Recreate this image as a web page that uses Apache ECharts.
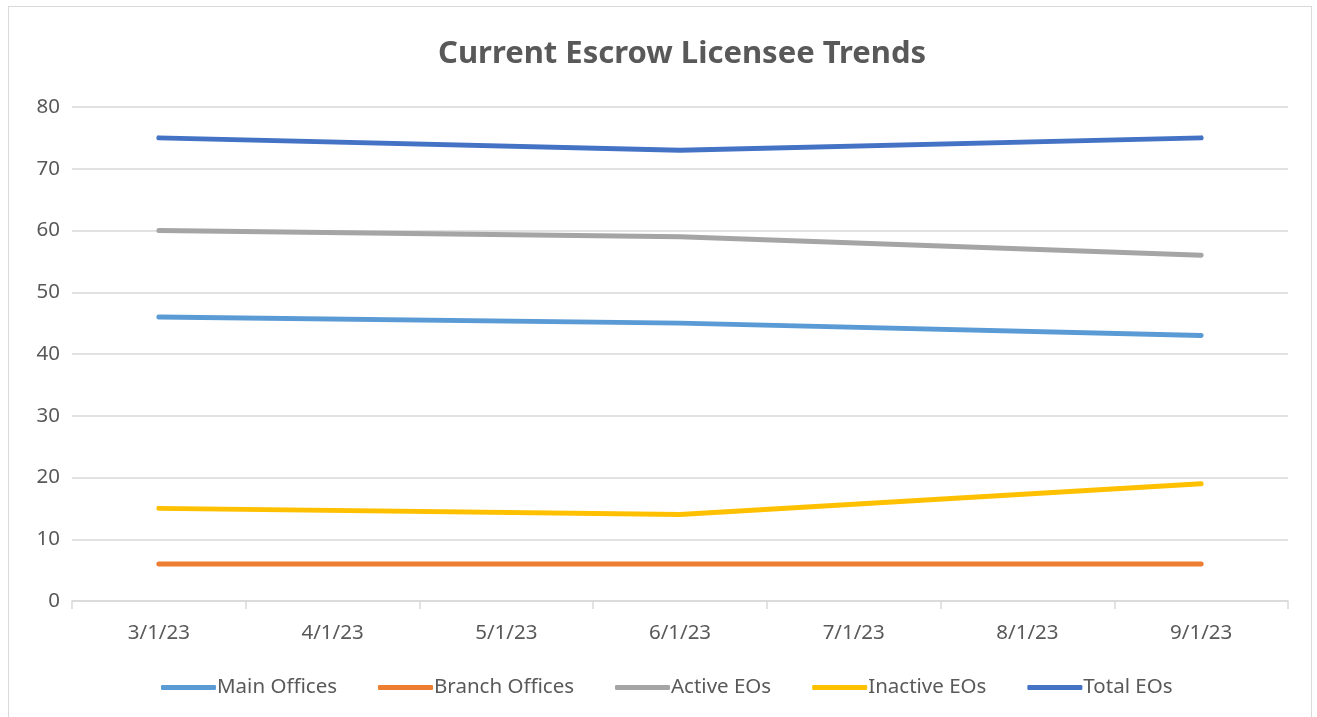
<!DOCTYPE html>
<html>
<head>
<meta charset="utf-8">
<script src="https://cdn.jsdelivr.net/npm/echarts@6/dist/echarts.min.js"></script>
<style>
html,body{margin:0;padding:0;background:#fff;}
#frame{position:absolute;left:8px;top:6px;width:1304px;height:720px;border:1px solid #d9d9d9;box-sizing:border-box;}
#c{position:absolute;left:0;top:0;width:1317px;height:717px;}
</style>
</head>
<body>
<div id="frame"></div>
<div id="c"></div>
<script>
var categories = ['3/1/23','4/1/23','5/1/23','6/1/23','7/1/23','8/1/23','9/1/23'];
var mainOffices   = [46, null, null, 45, null, null, 43];
var branchOffices = [6, null, null, 6, null, null, 6];
var activeEOs     = [60, null, null, 59, null, null, 56];
var inactiveEOs   = [15, null, null, 14, null, null, 19];
var totalEOs      = [75, null, null, 73, null, null, 75];
var seriesNames = ['Main Offices','Branch Offices','Active EOs','Inactive EOs','Total EOs'];
var colors = ['#5B9BD5','#ED7D31','#A5A5A5','#FFC000','#4472C4'];
var dataSets = [mainOffices, branchOffices, activeEOs, inactiveEOs, totalEOs];

var chart = echarts.init(document.getElementById('c'));
chart.setOption({
  animation: false,
  color: colors,
  title: {
    text: 'Current Escrow Licensee Trends',
    left: 433, top: 34,
    textStyle: {fontFamily: 'Noto Sans, sans-serif', fontSize: 31, fontWeight: 'bold', color: '#595959'}
  },
  grid: {left: 72, right: 29, top: 107, bottom: 116, containLabel: false},
  legend: {
    bottom: 14, left: 156,
    itemWidth: 55, itemHeight: 5, itemGap: 41,
    icon: 'roundRect',
    textStyle: {fontFamily: 'Noto Sans, sans-serif', fontSize: 20.5, color: '#595959', padding: [0,0,0,-4]},
    data: seriesNames
  },
  xAxis: {
    type: 'category', data: categories, boundaryGap: true,
    axisLine: {lineStyle: {color: '#d9d9d9', width: 1.5}},
    axisTick: {show: true, length: 8, lineStyle: {color: '#d9d9d9', width: 1.5}},
    axisLabel: {fontFamily: 'Noto Sans, sans-serif', fontSize: 20.5, color: '#595959', margin: 22}
  },
  yAxis: {
    type: 'value', min: 0, max: 80, interval: 10,
    axisLine: {show: false}, axisTick: {show: false},
    splitLine: {lineStyle: {color: '#d9d9d9', width: 1.5}},
    axisLabel: {fontFamily: 'Noto Sans, sans-serif', fontSize: 20.5, color: '#595959', margin: 12}
  },
  series: seriesNames.map(function(n, i){
    return {
      name: n, type: 'line', data: dataSets[i], connectNulls: true,
      showSymbol: false, symbol: 'none',
      lineStyle: {width: 5, color: colors[i], cap: 'round', join: 'round'}
    };
  })
});
</script>
</body>
</html>
